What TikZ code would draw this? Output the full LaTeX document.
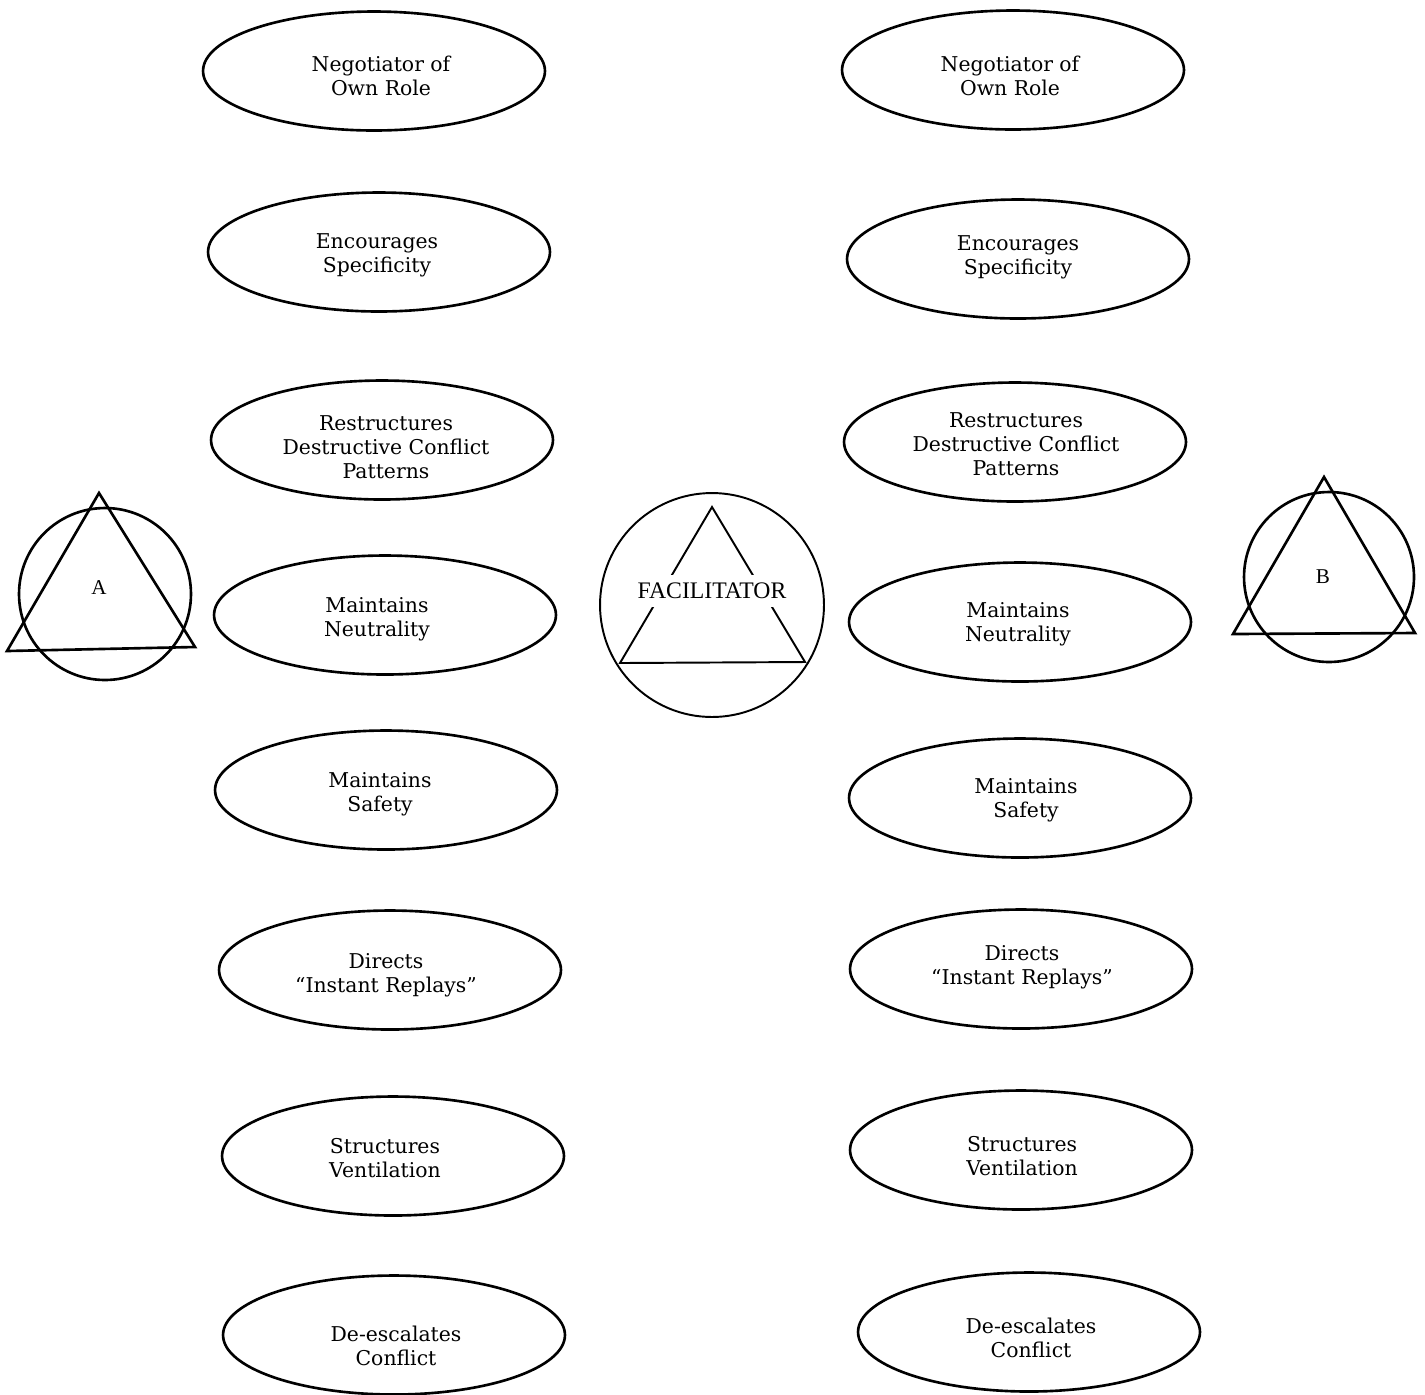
\documentclass[tikz,border=0pt]{standalone}
\usepackage{fontspec}
\setmainfont{DejaVu Serif}
\newfontfamily\labelfont{Liberation Serif}
\usepackage{tikz}
\usetikzlibrary{shapes,arrows,positioning,calc}

\begin{document}
\begin{tikzpicture}[x=0.02cm, y=-0.02cm, line width=1.5pt,
    role/.style={draw, ellipse, minimum width=6.84cm, minimum height=2.38cm, inner sep=0pt},
    roletext/.style={align=center, inner sep=0pt, font=\fontsize{11.6}{13.7}\selectfont},
    party/.style={draw, circle, minimum size=3.44cm, inner sep=0pt},
    tag/.style={font=\labelfont\fontsize{12}{14}\selectfont}]
    \path [use as bounding box, fill=white] (0,0) rectangle (1425,1394);

    \node [role] (negotiatorL) at (374,71) {};
    \node [role] (encouragesL) at (379,252) {};
    \node [role] (restructuresL) at (382,440) {};
    \node [role] (neutralityL) at (385,615) {};
    \node [role] (safetyL) at (386,790) {};
    \node [role] (replaysL) at (390,970) {};
    \node [role] (ventilationL) at (393,1156) {};
    \node [role] (deescalatesL) at (394,1335) {};

    \node [roletext] (negotiatorLtext) at (381,76) {Negotiator of\\Own Role};
    \node [roletext] (encouragesLtext) at (377,255) {Encourages\\Specificity};
    \node [roletext] (restructuresLtext) at (386,447) {Restructures\\Destructive Conflict\\Patterns};
    \node [roletext] (neutralityLtext) at (377,619) {Maintains\\Neutrality};
    \node [roletext] (safetyLtext) at (380,794) {Maintains\\Safety};
    \node [roletext] (replaysLtext) at (386,975) {Directs\\``Instant Replays''};
    \node [roletext] (ventilationLtext) at (385,1158) {Structures\\Ventilation};
    \node [roletext] (deescalatesLtext) at (396,1346) {De-escalates\\Conflict};

    \node [role] (negotiatorR) at (1013,70) {};
    \node [role] (encouragesR) at (1018,259) {};
    \node [role] (restructuresR) at (1015,442) {};
    \node [role] (neutralityR) at (1020,622) {};
    \node [role] (safetyR) at (1020,798) {};
    \node [role] (replaysR) at (1021,969) {};
    \node [role] (ventilationR) at (1021,1150) {};
    \node [role] (deescalatesR) at (1029,1332) {};

    \node [roletext] (negotiatorRtext) at (1010,76) {Negotiator of\\Own Role};
    \node [roletext] (encouragesRtext) at (1018,257) {Encourages\\Specificity};
    \node [roletext] (restructuresRtext) at (1016,444) {Restructures\\Destructive Conflict\\Patterns};
    \node [roletext] (neutralityRtext) at (1018,624) {Maintains\\Neutrality};
    \node [roletext] (safetyRtext) at (1026,800) {Maintains\\Safety};
    \node [roletext] (replaysRtext) at (1022,967) {Directs\\``Instant Replays''};
    \node [roletext] (ventilationRtext) at (1022,1156) {Structures\\Ventilation};
    \node [roletext] (deescalatesRtext) at (1031,1338) {De-escalates\\Conflict};

    \node [party] (circleA) at (105,594) {};
    \draw (99,493) -- (7,651) -- (195,647) -- cycle;
    \node [tag] (partyA) at (99,588) {A};

    \node [party, minimum size=3.4cm] (circleB) at (1329,577) {};
    \draw (1324,477) -- (1233,634) -- (1415,633) -- cycle;
    \node [tag] (partyB) at (1323,577) {B};

    \node [draw, circle, line width=1.1pt, minimum size=4.48cm, inner sep=0pt] (circleF) at (712,605) {};
    \draw [line width=1.1pt] (620,663) -- (712,507) -- (805,662) -- cycle;
    \node [tag, font=\labelfont\fontsize{13.5}{15}\selectfont, fill=white, inner xsep=2pt, inner ysep=0.17cm] (facilitator) at (712,591) {FACILITATOR};
\end{tikzpicture}
\end{document}
